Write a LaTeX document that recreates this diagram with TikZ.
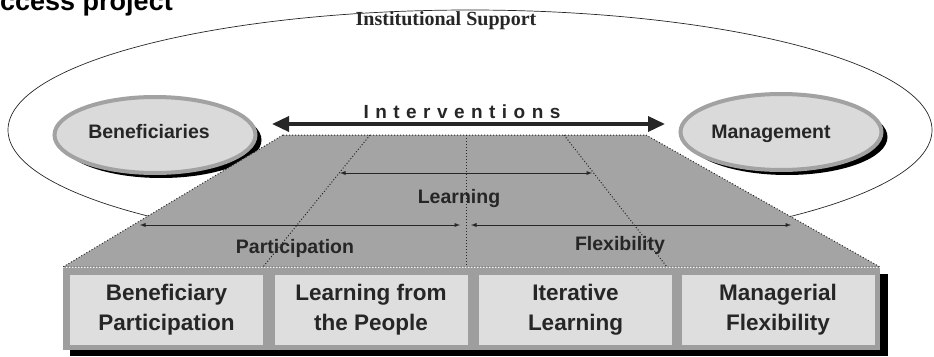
\documentclass[tikz,border=0pt]{standalone}
\usepackage{fontspec}
\setmainfont{Liberation Sans}
\newfontfamily\supportfont{Liberation Serif}
\newfontfamily\spacedfont[LetterSpace=34]{Liberation Sans}
\usetikzlibrary{arrows.meta,shapes.geometric,shadows}
\definecolor{ink}{HTML}{262626}
\definecolor{trapgray}{HTML}{A4A4A4}
\definecolor{framegray}{HTML}{9E9E9E}
\definecolor{panelgray}{HTML}{DEDEDE}
\definecolor{blobgray}{HTML}{DADADA}
\definecolor{ringgray}{HTML}{A2A2A2}
\tikzset{
  >=latex,
  lbl/.style={font=\fontsize{19.5}{22}\selectfont\bfseries,text=ink,inner sep=0pt,anchor=base},
  blob/.style={ellipse,draw=ringgray,line width=4pt,fill=blobgray,
    minimum width=201pt,minimum height=76pt,
    drop shadow={shadow xshift=6pt,shadow yshift=-5pt,fill=black,opacity=1}},
  panel/.style={fill=panelgray,minimum width=193pt,minimum height=70pt,inner sep=0pt,
    align=center,font=\fontsize{22.5}{30}\selectfont\bfseries,text=ink},
  guide/.style={dotted,line width=1pt,ink},
  thinarrow/.style={<->,line width=0.9pt,ink}
}

\begin{document}
\begin{tikzpicture}[x=1pt,y=-1pt]
  \useasboundingbox (0,0) rectangle (934,356);
  \clip (0,0) rectangle (934,356);
  \node[anchor=base west,inner sep=0pt,font=\fontsize{27}{27}\selectfont\bfseries] (heading) at (0,10) {ccess project};

  \draw[line width=0.7pt,ink] (470,130) ellipse [x radius=462,y radius=120];
  \node[font=\fontsize{20}{20}\supportfont\bfseries,text=ink,inner sep=0pt,anchor=base] (support) at (446,25) {Institutional Support};

  \node[blob] (benef) at (155,135) {};
  \node[lbl] (beneftext) at (149,138) {Beneficiaries};
  \node[blob] (mgmt) at (781,132) {};
  \node[lbl] (mgmttext) at (771,138) {Management};

  \coordinate (tl) at (283,135);
  \coordinate (tr) at (646,135);
  \coordinate (br) at (880,267);
  \coordinate (bl) at (63,267);
  \fill[trapgray] (tl) -- (tr) -- (br) -- (bl) -- cycle;
  \draw[guide] (tl) -- (tr) -- (br) -- (bl) -- cycle;
  \draw[guide] (370,135) -- (263,267);
  \draw[guide] (466,135) -- (466,267);
  \draw[guide] (564,135) -- (667,267);

  \coordinate (intL) at (272,124);
  \coordinate (intR) at (665,124);
  \draw[line width=3.5pt,ink,{Triangle[length=17pt,width=15pt]}-{Triangle[length=17pt,width=15pt]}] (intL) -- (intR);
  \node[font=\fontsize{19}{19}\spacedfont\bfseries,text=ink,inner sep=0pt,anchor=base] (interv) at (462,118) {Interventions};

  \coordinate (learnL) at (340,173);
  \coordinate (learnR) at (592,173);
  \draw[thinarrow] (learnL) -- (learnR);
  \node[lbl] (learning) at (459,203) {Learning};
  \coordinate (partL) at (140,225);
  \coordinate (partR) at (460,225);
  \draw[thinarrow] (partL) -- (partR);
  \node[lbl] (participation) at (295,253) {Participation};
  \coordinate (flexL) at (471,225);
  \coordinate (flexR) at (791,225);
  \draw[thinarrow] (flexL) -- (flexR);
  \node[lbl] (flexibility) at (620,250) {Flexibility};

  \fill[black] (70,274) rectangle (888,356);
  \fill[framegray] (63,268) rectangle (880,350);
  \node[panel] (box1) at (166.5,310) {Beneficiary\\Participation};
  \node[panel] (box2) at (371,310) {Learning from\\the People};
  \node[panel] (box3) at (575.5,310) {Iterative\\Learning};
  \node[panel] (box4) at (778,310) {Managerial\\Flexibility};
\end{tikzpicture}
\end{document}
